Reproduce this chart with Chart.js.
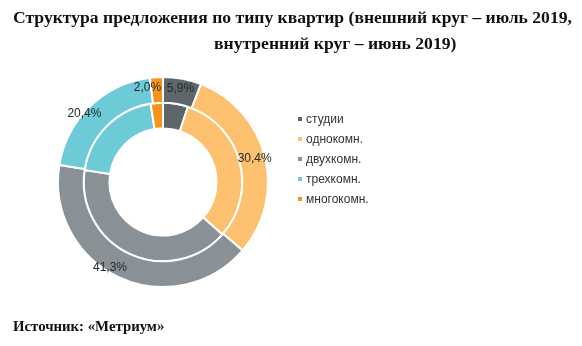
<!DOCTYPE html>
<html lang="ru">
<head>
<meta charset="utf-8">
<script src="https://cdn.jsdelivr.net/npm/chart.js@4"></script>
<style>
  html, body { margin: 0; padding: 0; background: #fff; }
  body { width: 582px; height: 346px; position: relative; overflow: hidden; }
  #chart { position: absolute; left: 0; top: 0; width: 582px; height: 346px; }
  .title { position: absolute; font: bold 17.6px "Liberation Serif", "Times New Roman", serif; color: #111; white-space: nowrap; }
  #t1 { left: 13px; top: 7px; }
  #t2 { left: 214px; top: 33px; }
  #source { position: absolute; left: 13px; top: 318px; font: bold 14.8px "Liberation Serif", "Times New Roman", serif; color: #111; white-space: nowrap; }
  #legend { position: absolute; left: 298px; top: 112px; font: 12px "Liberation Sans", Arial, sans-serif; color: #333; }
  #legend div { height: 20px; line-height: 15px; white-space: nowrap; }
  #legend span.box { display: inline-block; width: 4px; height: 4px; margin-right: 4px; vertical-align: 2px; }
</style>
</head>
<body>
<canvas id="chart" width="582" height="346"></canvas>
<div class="title" id="t1">Структура предложения по типу квартир (внешний круг – июль 2019,</div>
<div class="title" id="t2">внутренний круг – июнь 2019)</div>
<div id="legend"></div>
<div id="source">Источник: «Метриум»</div>
<script>
// Apartment types
const categories = ['студии', 'однокомн.', 'двухкомн.', 'трехкомн.', 'многокомн.'];
// Share of supply, %: outer ring — July 2019, inner ring — June 2019
const july2019 = [5.9, 30.4, 41.3, 20.4, 2.0];
const june2019 = [5.1, 31.4, 40.9, 20.1, 2.5];
const colors = ['#5e666a', '#fcc06f', '#899196', '#6dcad7', '#f7941e'];

const fmt = v => v.toFixed(1).replace('.', ',') + '%';

// Percent labels on the outer ring
const ringLabels = {
  id: 'ringLabels',
  afterDatasetsDraw(chart) {
    const meta = chart.getDatasetMeta(0);
    const ctx = chart.ctx;
    ctx.save();
    ctx.font = '12px "Liberation Sans", Arial, sans-serif';
    ctx.fillStyle = '#25292d';
    ctx.textBaseline = 'middle';
    meta.data.forEach((arc, i) => {
      const p = arc.getProps(['x', 'y', 'startAngle', 'endAngle', 'outerRadius'], true);
      const mid = (p.startAngle + p.endAngle) / 2;
      const r = p.outerRadius * 0.9;
      const x = p.x + Math.cos(mid) * r;
      const y = p.y + Math.sin(mid) * r;
      const right = x < p.x - 2;
      ctx.textAlign = right ? 'right' : 'center';
      ctx.fillText(fmt(chart.data.datasets[0].data[i]), right ? x + 4 : x, y);
    });
    ctx.restore();
  }
};

new Chart(document.getElementById('chart'), {
  type: 'doughnut',
  data: {
    labels: categories,
    datasets: [
      { label: 'июль 2019', data: july2019, backgroundColor: colors, borderColor: '#fff', borderWidth: 2 },
      { label: 'июнь 2019', data: june2019, backgroundColor: colors, borderColor: '#fff', borderWidth: 2 }
    ]
  },
  options: {
    responsive: false,
    animation: false,
    cutout: '51%',
    layout: { padding: { left: 57, top: 76, right: 313, bottom: 58 } },
    plugins: { legend: { display: false }, tooltip: { enabled: false } }
  },
  plugins: [ringLabels]
});

// Legend
const legend = document.getElementById('legend');
categories.forEach((c, i) => {
  const row = document.createElement('div');
  const box = document.createElement('span');
  box.className = 'box';
  box.style.background = colors[i];
  row.appendChild(box);
  row.appendChild(document.createTextNode(c));
  legend.appendChild(row);
});
</script>
</body>
</html>
